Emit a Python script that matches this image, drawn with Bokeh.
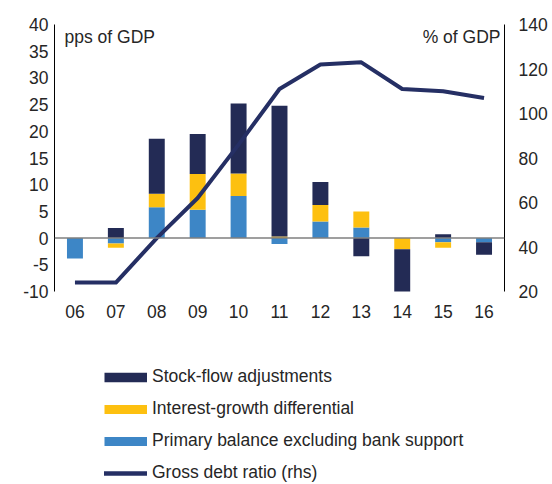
from bokeh.plotting import figure
from bokeh.models import (FactorRange, Range1d, LinearAxis, Span, Label, Legend,
                          LegendItem, FixedTicker, ColumnDataSource)
from bokeh.layouts import column
from bokeh.embed import file_html
from bokeh.resources import INLINE

years = ["06", "07", "08", "09", "10", "11", "12", "13", "14", "15", "16"]
primary_balance = [-3.8, -1.0, 5.8, 5.3, 7.9, -1.1, 3.1, 2.0, 0.0, -0.8, -0.8]
interest_growth = [0.0, -0.8, 2.5, 6.7, 4.2, 0.3, 3.1, 3.0, -2.1, -1.0, 0.0]
stock_flow = [0.0, 1.9, 10.3, 7.5, 13.1, 24.5, 4.3, -3.4, -8.1, 0.7, -2.3]
gross_debt = [24, 24, 44, 62, 86, 111, 122, 123, 111, 110, 107]

left_ticks = [-10, -5, 0, 5, 10, 15, 20, 25, 30, 35, 40]
right_ticks = [20, 40, 60, 80, 100, 120, 140]

C_DARK = "#232b55"
C_YEL = "#fdc010"
C_BLUE = "#3d86c6"
C_LINE = "#252f64"
TXT = "#262626"
FONT = "Liberation Sans"
FS = "17.5px"

series = [("Primary balance excluding bank support", primary_balance, C_BLUE),
          ("Interest-growth differential", interest_growth, C_YEL),
          ("Stock-flow adjustments", stock_flow, C_DARK)]

p = figure(x_range=FactorRange(*years), y_range=Range1d(-10, 40),
           width=552, height=330, output_backend="svg", toolbar_location=None,
           min_border_left=54, min_border_right=48, min_border_top=24,
           min_border_bottom=39)
p.extra_y_ranges = {"right": Range1d(20, 140)}
p.outline_line_color = None
p.xgrid.visible = False
p.ygrid.visible = False

# stacked bars: positives up, negatives down, in series order
pos = [0.0] * len(years)
neg = [0.0] * len(years)
for name, vals, col in series:
    bottoms, tops = [], []
    for i, v in enumerate(vals):
        if v >= 0:
            bottoms.append(pos[i]); tops.append(pos[i] + v); pos[i] += v
        else:
            bottoms.append(neg[i]); tops.append(neg[i] + v); neg[i] += v
    src = ColumnDataSource(dict(x=years, bottom=bottoms, top=tops))
    p.vbar(x="x", bottom="bottom", top="top", width=0.39, source=src,
           fill_color=col, line_color=None)

p.add_layout(Span(location=0, dimension="width", line_color="#7f7f7f",
                  line_width=1.5))

debt = p.line(years, gross_debt, y_range_name="right", line_color=C_LINE,
              line_width=4, line_join="round")

# axes
p.yaxis.ticker = FixedTicker(ticks=left_ticks)
p.yaxis.major_label_overrides = {-10: "-10", -5: "-5"}
right_axis = LinearAxis(y_range_name="right", ticker=FixedTicker(ticks=right_ticks))
p.add_layout(right_axis, "right")
for ax in [p.yaxis[0], right_axis]:
    ax.axis_line_color = "#000000"
    ax.axis_line_width = 1
    ax.major_tick_line_color = None
    ax.minor_tick_line_color = None
    ax.major_tick_out = 0
    ax.major_tick_in = 0
    ax.major_label_text_font = FONT
    ax.major_label_text_font_size = FS
    ax.major_label_text_color = TXT
p.yaxis[0].major_label_standoff = 6
right_axis.major_label_standoff = 14

xa = p.xaxis[0]
xa.axis_line_color = None
xa.major_tick_line_color = None
xa.minor_tick_line_color = None
xa.major_tick_out = 0
xa.major_label_standoff = 13
xa.major_label_text_font = FONT
xa.major_label_text_font_size = FS
xa.major_label_text_color = TXT

p.add_layout(Label(x=10, x_units="screen", y=37.6, text="pps of GDP",
                   text_font=FONT, text_font_size=FS, text_color=TXT,
                   text_baseline="alphabetic"))
p.add_layout(Label(x=446, x_units="screen", y=37.6, text="% of GDP",
                   text_font=FONT, text_font_size=FS, text_color=TXT,
                   text_align="right", text_baseline="alphabetic"))

# legend figure below the chart
q = figure(x_range=Range1d(0, 1), y_range=Range1d(0, 1), width=552, height=154,
           output_backend="svg", toolbar_location=None,
           min_border_left=0, min_border_right=0, min_border_top=0,
           min_border_bottom=0)
q.axis.visible = False
q.grid.visible = False
q.outline_line_color = None

nan = float("nan")
items = []
for name, col, w, cap in [("Stock-flow adjustments", C_DARK, 9.5, "butt"),
                          ("Interest-growth differential", C_YEL, 9, "butt"),
                          ("Primary balance excluding bank support", C_BLUE, 9, "butt"),
                          ("Gross debt ratio (rhs)", C_LINE, 4.5, "round")]:
    r = q.line(x=[nan, nan], y=[nan, nan], line_color=col, line_width=w, line_cap=cap)
    items.append(LegendItem(label=name, renderers=[r]))
legend = Legend(items=items, location=(50, 1), glyph_width=43, glyph_height=16,
                label_height=16, spacing=11, padding=0, margin=0, label_standoff=5,
                border_line_color=None, background_fill_alpha=0,
                label_text_font=FONT, label_text_font_size=FS,
                label_text_color=TXT)
q.add_layout(legend, "center")

layout = column(p, q, spacing=0)
open("out.html", "w").write(file_html(layout, INLINE))
